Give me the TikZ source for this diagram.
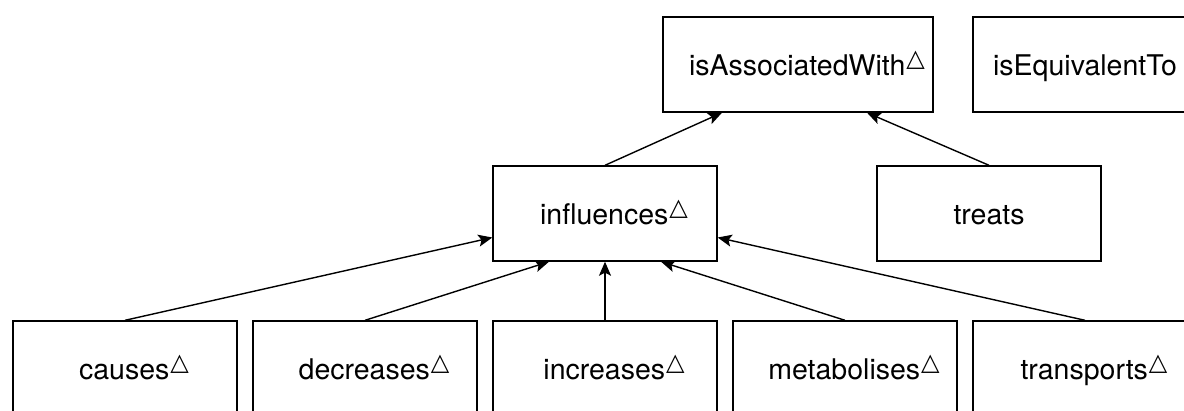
\documentclass[tikz,border=0pt]{standalone}
\usepackage{fontspec}
\setmainfont{TeX Gyre Heros}
\newfontfamily\symfont{DejaVu Sans}
\usepackage{tikz}
\usetikzlibrary{arrows.meta}
\tikzstyle{rel}=[draw,rectangle,fill=white,line width=1.4pt,minimum width=224pt,minimum height=95pt,inner sep=0pt,text height=26pt,text depth=4pt,font=\fontsize{28.5}{34}\selectfont]
% derived-relation mark
\def\dT{\kern1pt\raisebox{9pt}{\fontsize{24}{24}\symfont △}\kern-18pt}

\begin{document}
\begin{tikzpicture}[x=1pt,y=-1pt,>={Stealth[length=14pt,width=12pt,inset=3pt]},line width=1.4pt]
    \useasboundingbox (0,0) rectangle (1184,410);
    \node [rel, minimum width=270pt] (assoc)  at (798,64.5)   {isAssociatedWith\dT};
    \node [rel] (equiv)  at (1085,64.5)   {isEquivalentTo};
    \node [rel] (infl)   at (605,213.5)   {influences\dT};
    \node [rel] (treats) at (989,213.5)   {treats};
    \node [rel] (causes) at (125,368.5)   {causes\dT};
    \node [rel] (decr)   at (365,368.5)   {decreases\dT};
    \node [rel] (incr)   at (605,368.5)   {increases\dT};
    \node [rel] (metab)  at (845,368.5)   {metabolises\dT};
    \node [rel] (transp) at (1085,368.5)  {transports\dT};

    \path [->] (infl.north)   edge (assoc.south -| 722,0)
               (treats.north) edge (assoc.south -| 867,0);
    \path [->] (causes.north) edge ([yshift=-24pt]infl.west)
               (decr.north)   edge ([xshift=-56pt]infl.south)
               (incr.north)   edge (infl.south)
               (metab.north)  edge ([xshift=56pt]infl.south)
               (transp.north) edge ([yshift=-24pt]infl.east);
\end{tikzpicture}
\end{document}
